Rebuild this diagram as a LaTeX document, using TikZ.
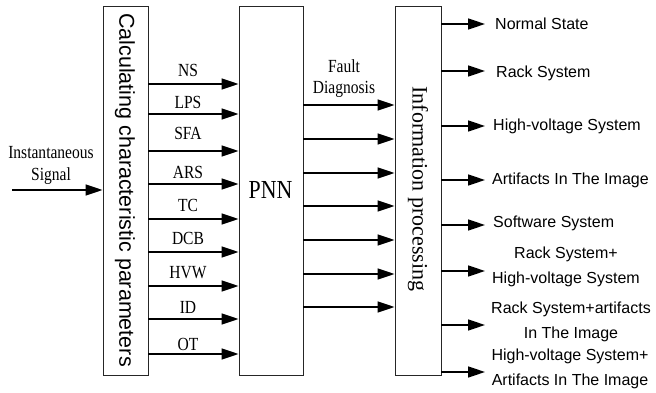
\documentclass[tikz,border=0pt]{standalone}
\usepackage{fontspec}
\setmainfont{Liberation Serif}
\newfontfamily\cond[FakeStretch=0.84]{Liberation Serif}
\newfontfamily\arial{Liberation Sans}
\usetikzlibrary{arrows.meta}
\begin{document}
\begin{tikzpicture}[x=1pt,y=-1pt,
  blk/.style={draw=black!85,line width=0.9pt,inner sep=0pt},
  arr/.style={line width=1.6pt,-{Triangle[length=17pt,width=11pt]}},
  lbl/.style={font=\cond\fontsize{18.5}{20}\selectfont,inner sep=0pt},
  outl/.style={font=\arial\fontsize{16}{24}\selectfont,inner sep=0pt,anchor=west},
  outc/.style={font=\arial\fontsize{16}{25}\selectfont,inner sep=0pt,align=center}]
\useasboundingbox (0,0) rectangle (656,393);
% boxes
\node[blk,minimum width=45pt,minimum height=369pt] (calc) at (125.5,190.5) {};
\node[blk,minimum width=64pt,minimum height=369pt] (pnn) at (271,190.5) {};
\node[blk,minimum width=46pt,minimum height=369pt] (info) at (418,190.5) {};
\node[rotate=-90,font=\arial\fontsize{21.5}{24}\selectfont,inner sep=0pt] (calct) at (125,190) {Calculating characteristic parameters};
\node[font=\cond\fontsize{26}{28}\selectfont,inner sep=0pt] (pnnt) at (270.5,189.5) {PNN};
\node[rotate=-90,font=\fontsize{22}{24}\selectfont,inner sep=0pt] (infot) at (418,189) {Information processing};
% input
\coordinate (in) at (12,190);
\node[font=\cond\fontsize{18.5}{22}\selectfont,inner sep=0pt,align=center] (inl) at (51,165) {Instantaneous\\Signal};
\draw[arr] (in) -- (calc.west |- in);
% calc -> pnn
\foreach \y/\t/\ly [count=\i] in {84/NS/70,114/LPS/102,151/SFA/133,184/ARS/172,219/TC/205,252/DCB/238,286/HVW/273,319/ID/307,354/OT/344}{
  \coordinate (a\i) at (0,\y);
  \draw[arr] (calc.east |- a\i) -- (pnn.west |- a\i);
  \node[lbl] (l\i) at (188,\ly) {\t};
}
% pnn -> info
\foreach \y [count=\i] in {105,139,173,206,240,274,307}{
  \coordinate (b\i) at (0,\y);
  \draw[arr] (pnn.east |- b\i) -- (info.west |- b\i);
}
\node[font=\cond\fontsize{18.5}{21}\selectfont,inner sep=0pt,align=center] (fd) at (344,78.5) {Fault\\Diagnosis};
% outputs
\foreach \y [count=\i] in {24,71,126,180,225,271,325,372}{
  \coordinate (o\i) at (485,\y);
  \draw[arr] (info.east |- o\i) -- (o\i);
}
\node[outl] (n1) at (495,24) {Normal State};
\node[outl] (n2) at (496,73) {Rack System};
\node[outl] (n3) at (493,126) {High-voltage System};
\node[outl] (n4) at (492,180) {Artifacts In The Image};
\node[outl] (n5) at (493,223) {Software System};
\node[outc] (n6) at (566,267) {Rack System+\\High-voltage System};
\node[outc] (n7) at (571,321.5) {Rack System+artifacts\\In The Image};
\node[outc] (n8) at (570,369) {High-voltage System+\\Artifacts In The Image};
\end{tikzpicture}
\end{document}
